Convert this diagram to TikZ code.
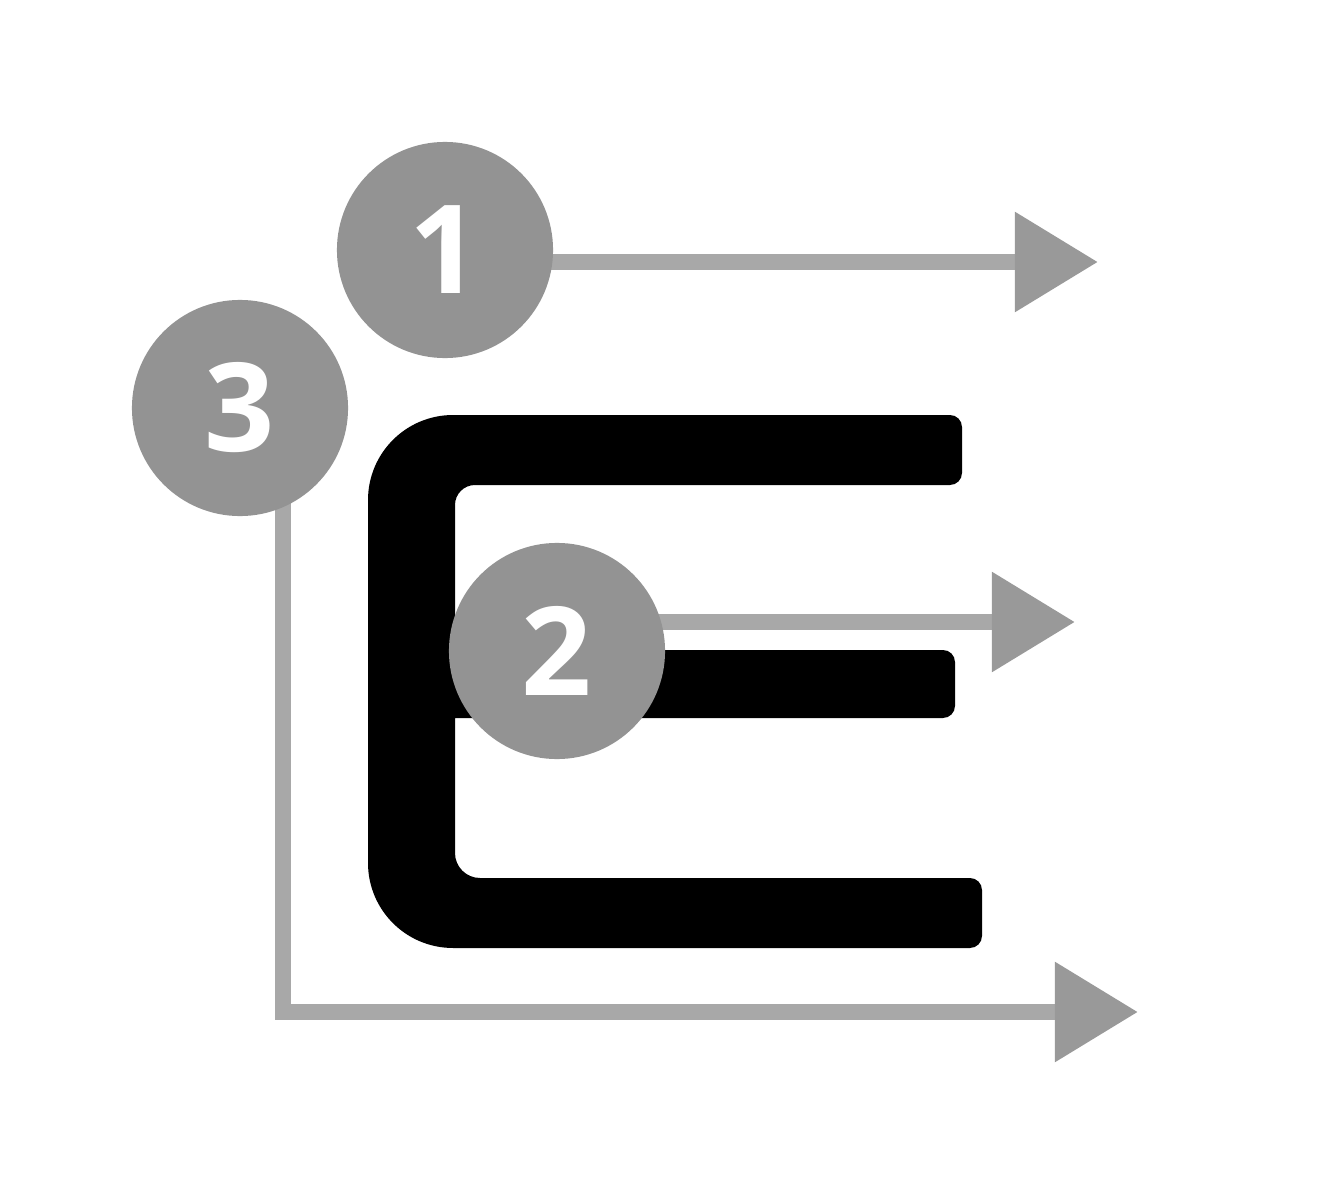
\documentclass[tikz,border=0pt]{standalone}
\usepackage{fontspec}
\setmainfont{Open Sans}
\usetikzlibrary{arrows.meta,backgrounds}
\definecolor{ink}{HTML}{000000}
\definecolor{mark}{HTML}{939393}
\definecolor{trail}{HTML}{A8A8A8}
\definecolor{head}{HTML}{999999}
\begin{document}
\begin{tikzpicture}[x=0.01cm, y=-0.01cm,
    main/.style = {circle, fill=mark, text=white, minimum size=2.16cm, inner sep=0pt,
                   font=\fontsize{35}{38}\selectfont\bfseries},
    trace/.style = {draw=trail, line width=0.16cm,
                    -{Triangle[length=0.83cm, width=0.96cm, color=head]}}]
\useasboundingbox (0,0) rectangle (1332,1200);
\node[main] (1) at (445,250) {1};
\node[main] (3) at (240,408) {3};
\node[main] (2) at (557,651) {2};
\coordinate (t1) at (1098,262);
\coordinate (t2) at (1075,622);
\coordinate (k3) at (283,1012);
\coordinate (t3) at (1138,1012);
\begin{pgfonlayer}{background}
    % the letter
    \fill[ink] (962,450) [rounded corners=0.12cm] -- (962,415) [rounded corners=0.85cm] -- (368,415)
        -- (368,948) [rounded corners=0.12cm] -- (982,948) -- (982,878) [rounded corners=0.25cm]
        -- (455,878) [sharp corners] -- (455,718) [rounded corners=0.12cm] -- (955,718) -- (955,650)
        [sharp corners] -- (455,650) [rounded corners=0.2cm] -- (455,485) [rounded corners=0.12cm]
        -- (962,485) -- cycle;
    % strokes
    \draw[trace] (1.center |- t1) -- (t1);
    \draw[trace] (2.center |- t2) -- (t2);
    \draw[trace] (3.center -| k3) -- (k3) -- (t3);
\end{pgfonlayer}
\end{tikzpicture}
\end{document}
